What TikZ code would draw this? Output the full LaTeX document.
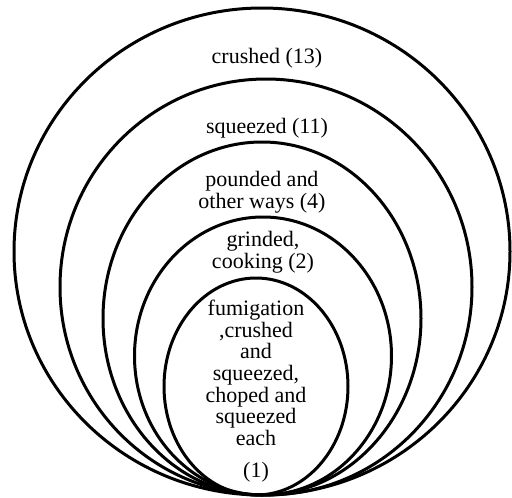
\documentclass[tikz,border=0pt]{standalone}
\usepackage{fontspec}
\setmainfont{Liberation Serif}
\begin{document}
\begin{tikzpicture}[x=1pt,y=-1pt,
  ring/.style={line width=3pt, draw=black},
  lbl/.style={align=center, inner sep=0pt, font=\fontsize{22}{21.7}\selectfont, text=black}]
\useasboundingbox (0,0) rectangle (512,498);
\fill[white] (0,0) rectangle (512,498);
% ellipses (centre x, centre y, rx, ry), all touching at bottom y=495
\draw[ring] (262,251.5) ellipse [x radius=248, y radius=243.5];
\draw[ring] (266,287) ellipse [x radius=206, y radius=208];
\draw[ring] (262,318.5) ellipse [x radius=159, y radius=176.5];
\draw[ring] (263,356) ellipse [x radius=128.5, y radius=139];
\draw[ring] (256,386.5) ellipse [x radius=92, y radius=108.5];
% labels
\node[lbl] (l13) at (267,58) {crushed (13)};
\node[lbl] (l11) at (267,128) {squeezed (11)};
\node[lbl] (l4) at (262,192) {pounded and\\other ways (4)};
\node[lbl] (l2) at (263,252) {grinded,\\cooking (2)};
\node[lbl] (l1) at (256,391) {fumigation\\,crushed\\and\\squeezed,\\choped and\\squeezed\\each\\[10pt](1)};
\end{tikzpicture}
\end{document}
